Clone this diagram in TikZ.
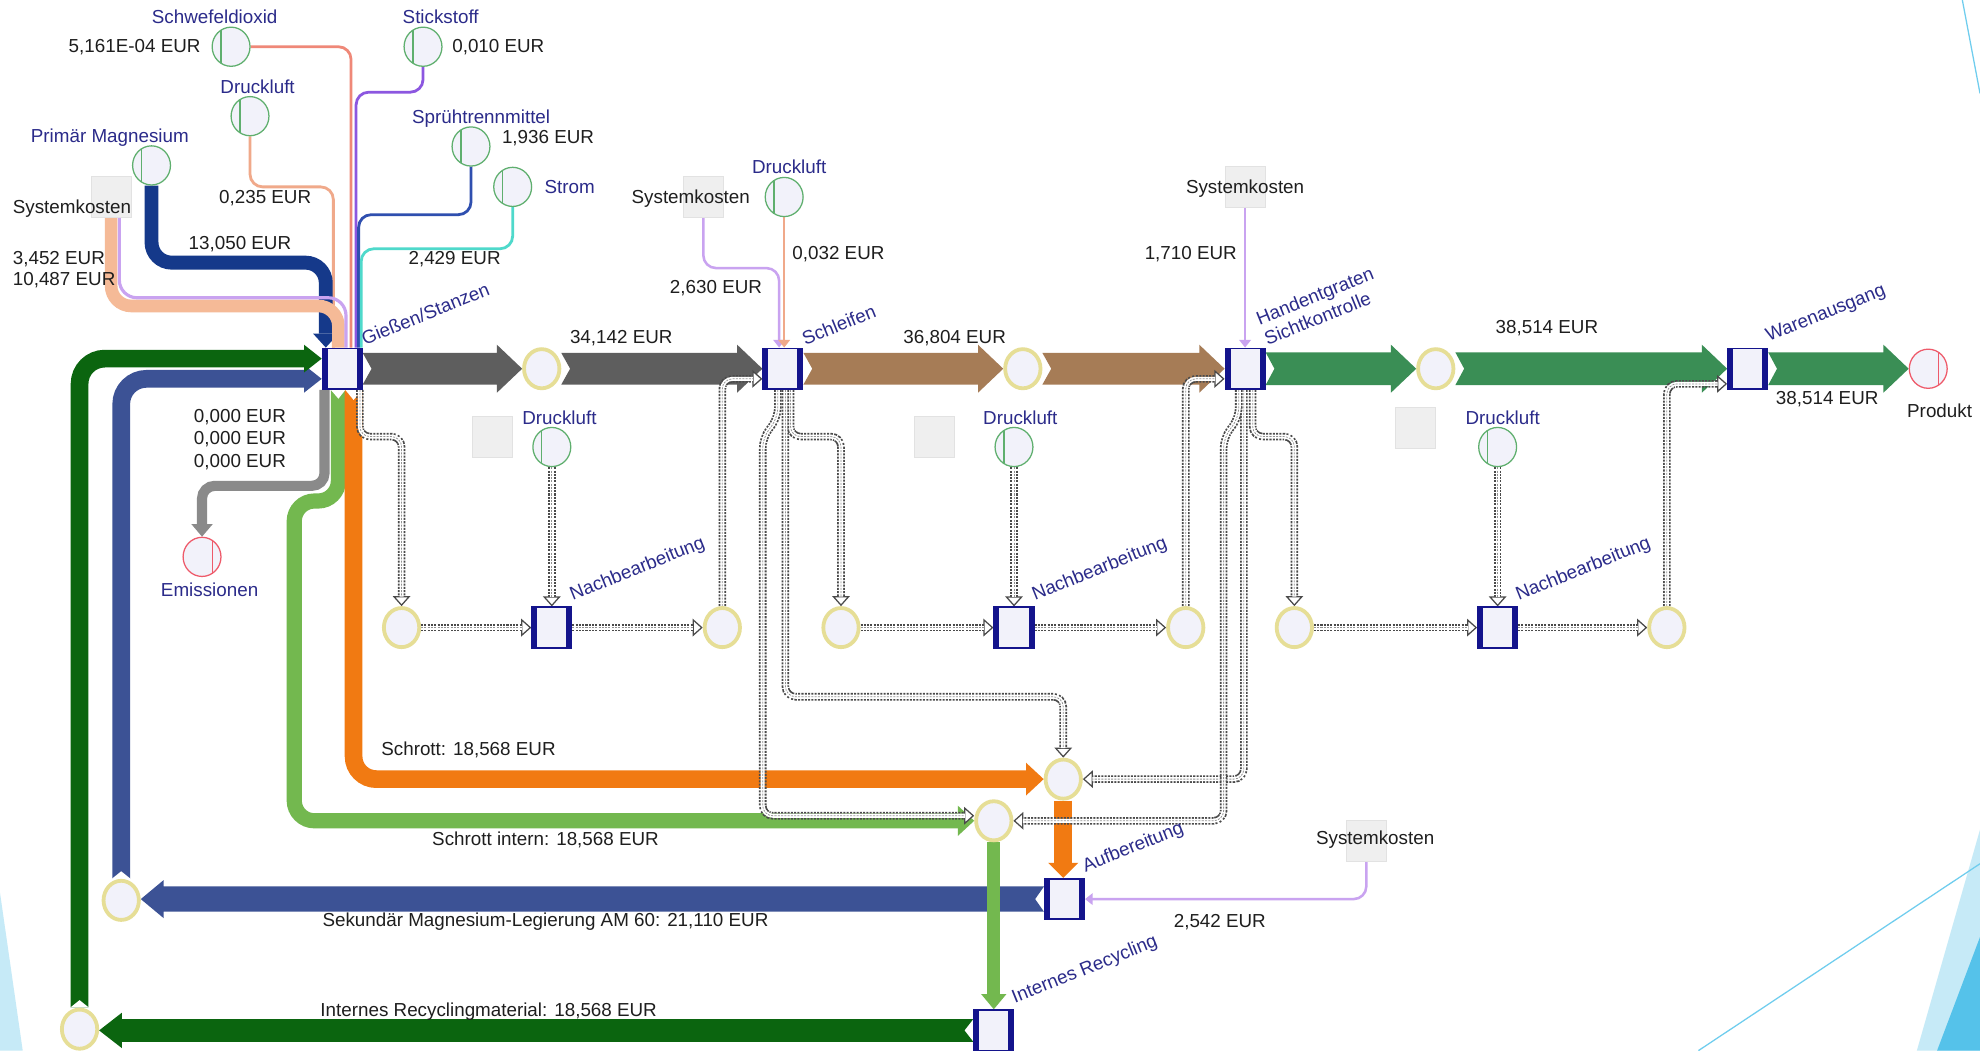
\documentclass[tikz,border=0pt]{standalone}
\usepackage{fontspec}
\setmainfont{Liberation Sans}
\usetikzlibrary{arrows.meta,calc,shapes.geometric}
\definecolor{navyb}{HTML}{14148C}
\definecolor{nfill}{HTML}{F2F2FA}
\definecolor{placey}{HTML}{E6DE96}
\definecolor{ingreen}{HTML}{5FAF6E}
\definecolor{outred}{HTML}{EE5A6A}
\definecolor{lblue}{HTML}{2B2B8A}
\definecolor{txt}{HTML}{1E1E1E}
\definecolor{sqfill}{HTML}{EFEFEF}
\definecolor{sqdraw}{HTML}{E2E2E2}
\definecolor{bgray}{HTML}{5E5E5E}
\definecolor{bbrown}{HTML}{A67C56}
\definecolor{bgreen}{HTML}{3A8E55}
\definecolor{dkgreen}{HTML}{0B650F}
\definecolor{secblue}{HTML}{3C5295}
\definecolor{lgreen}{HTML}{73B84F}
\definecolor{orng}{HTML}{F17A12}
\definecolor{pmnavy}{HTML}{15398A}
\definecolor{peach}{HTML}{F5BA97}
\definecolor{lav}{HTML}{C9A3F0}
\definecolor{salmon}{HTML}{EF8878}
\definecolor{purp}{HTML}{8C57E0}
\definecolor{sprblue}{HTML}{2F4FAF}
\definecolor{turq}{HTML}{4FD9CB}
\definecolor{dlpeach}{HTML}{F0A98A}
\definecolor{emgray}{HTML}{8A8A8A}
\definecolor{declight}{HTML}{C6EAF7}
\definecolor{decdark}{HTML}{55C2EA}
\definecolor{decline}{HTML}{6FCDEE}
\definecolor{dashc}{HTML}{4A4A4A}
\pgfdeclarelayer{deco}
\pgfdeclarelayer{bands}
\pgfdeclarelayer{dash}
\pgfsetlayers{deco,bands,dash,main}
\newcommand\hbandR[6]{%
  \fill[#3] let \p1=(#1), \p2=(#2) in
  (\x1,\y1+#4pt) -- (\x2-#6pt,\y1+#4pt) -- (\x2-#6pt,\y1+#5pt) -- (\x2,\y1)
  -- (\x2-#6pt,\y1-#5pt) -- (\x2-#6pt,\y1-#4pt) -- (\x1,\y1-#4pt) -- (\x1+7pt,\y1) -- cycle;}
\newcommand\hbandL[6]{%
  \fill[#3] let \p1=(#1), \p2=(#2) in
  (\x1,\y1+#4pt) -- (\x2+#6pt,\y1+#4pt) -- (\x2+#6pt,\y1+#5pt) -- (\x2,\y1)
  -- (\x2+#6pt,\y1-#5pt) -- (\x2+#6pt,\y1-#4pt) -- (\x1,\y1-#4pt) -- (\x1-7pt,\y1) -- cycle;}
\begin{document}
\begin{tikzpicture}[x=1pt,y=-1pt,
  place/.style={ellipse, minimum width=28pt, minimum height=31pt, inner sep=0pt, draw=placey, line width=3pt, fill=nfill},
  inp/.style={ellipse, minimum width=30pt, minimum height=31pt, inner sep=0pt, draw=ingreen, line width=1pt, fill=nfill,
    path picture={\draw[ingreen,line width=1pt] ([xshift=-8pt]path picture bounding box.north) -- ([xshift=-8pt]path picture bounding box.south);}},
  outp/.style={ellipse, minimum width=30pt, minimum height=31pt, inner sep=0pt, draw=outred, line width=1pt, fill=nfill,
    path picture={\draw[outred,line width=1pt] ([xshift=8pt]path picture bounding box.north) -- ([xshift=8pt]path picture bounding box.south);}},
  trans/.style={rectangle, minimum width=31pt, minimum height=32pt, inner sep=0pt, draw=navyb, line width=1.5pt, fill=nfill,
    path picture={\fill[navyb] (path picture bounding box.north west) rectangle ([xshift=4pt]path picture bounding box.south west);
      \fill[navyb] ([xshift=-4pt]path picture bounding box.north east) rectangle (path picture bounding box.south east);}},
  sq/.style={rectangle, minimum size=32pt, inner sep=0pt, fill=sqfill, draw=sqdraw, line width=0.6pt},
  nm/.style={text=lblue, font=\fontsize{14.9}{17}\selectfont, inner sep=1pt},
  val/.style={text=txt, font=\fontsize{14.9}{17}\selectfont, inner sep=1pt},
  tn/.style={nm, rotate=22, anchor=south west, align=left},
  dflow/.style={draw=dashc, line width=6pt, dash pattern=on 1.6pt off 1pt, rounded corners=8pt,
    -{Triangle[open, length=8pt, width=14pt, line width=1pt, fill=white]},
    postaction={draw=white, line width=3.2pt, solid, -, shorten >=7.5pt},
    postaction={draw=dashc!60, line width=0.6pt, dash pattern=on 1.6pt off 1pt, -, shorten >=7.5pt}},
  thin/.style={line width=2.2pt, rounded corners=10pt},
]
\useasboundingbox (0,0) rectangle (1568,832);
% ---------- nodes ----------
\node[trans] (T1) at (271,292) {};
\node[trans] (T2) at (620,292) {};
\node[trans] (T3) at (986,292) {};
\node[trans] (T4) at (1384,292) {};
\node[trans] (T5) at (437,497) {};
\node[trans] (T6) at (803,497) {};
\node[trans] (T7) at (1186,497) {};
\node[trans] (T8) at (843,712) {};
\node[trans] (T9) at (787,816) {};
\node[place] (P1) at (429,292) {};
\node[place] (P2) at (810,292) {};
\node[place] (P3) at (1137,292) {};
\node[place] (P4) at (318,497) {};
\node[place] (P5) at (572,497) {};
\node[place] (P6) at (666,497) {};
\node[place] (P7) at (939,497) {};
\node[place] (P8) at (1025,497) {};
\node[place] (P9) at (1320,497) {};
\node[place] (P10) at (842,617) {};
\node[place] (P11) at (787,650) {};
\node[place] (P12) at (96,713) {};
\node[place] (P13) at (63,815) {};
\node[inp] (SO2) at (183,37) {};
\node[inp] (N2) at (335,37) {};
\node[inp] (DL1) at (198,92) {};
\node[inp] (PM) at (120,131) {};
\node[inp] (ST) at (373,116) {};
\node[inp] (STR) at (406,148) {};
\node[inp] (DL2) at (621,156) {};
\node[inp] (DL4) at (437,354) {};
\node[inp] (DL5) at (803,354) {};
\node[inp] (DL6) at (1186,354) {};
\node[outp] (Em) at (160,441) {};
\node[outp] (Prod) at (1527,292) {};
\node[sq] (SK1) at (88,156) {};
\node[sq] (SK2) at (557,156) {};
\node[sq] (SK3) at (986,148) {};
\node[sq] (SK7) at (1082,666) {};
\node[sq] (E4) at (390,346) {};
\node[sq] (E5) at (740,346) {};
\node[sq] (E6) at (1121,339) {};
% ---------- labels ----------
\node[tn] (nT1) at ([xshift=1pt]T1.north east) {Gießen/Stanzen};
\node[tn] (nT2) at ([xshift=1pt]T2.north east) {Schleifen};
\node[tn] (nT3) at ([xshift=1pt]T3.north east) {Handentgraten\\Sichtkontrolle};
\node[tn] (nT4) at ([xshift=1pt]T4.north east) {Warenausgang};
\node[tn] (nT5) at ([xshift=1pt]T5.north east) {Nachbearbeitung};
\node[tn] (nT6) at ([xshift=1pt]T6.north east) {Nachbearbeitung};
\node[tn] (nT7) at ([xshift=1pt]T7.north east) {Nachbearbeitung};
\node[tn] (nT8) at ([xshift=1pt]T8.north east) {Aufbereitung};
\node[tn] (nT9) at ([xshift=1pt]T9.north east) {Internes Recycling};
\node[nm] (lSO2) at (170,13) {Schwefeldioxid};
\node[nm] (lN2) at (349,13) {Stickstoff};
\node[nm] (lDL1) at (204,69) {Druckluft};
\node[nm] (lPM) at (87,109) {Primär Magnesium};
\node[nm] (lST) at (381,94) {Sprühtrennmittel};
\node[nm,anchor=west] (lSTR) at (430,148) {Strom};
\node[nm] (lDL2) at (625,132) {Druckluft};
\node[nm] (lDL4) at (443,331) {Druckluft};
\node[nm] (lDL5) at (808,331) {Druckluft};
\node[nm] (lDL6) at (1190,331) {Druckluft};
\node[nm] (lEm) at (166,467) {Emissionen};
\node[val] (lProd) at (1536,325) {Produkt};
\node[val,anchor=west] (lSK1) at (9,165) {Systemkosten};
\node[val] (lSK2) at (547,157) {Systemkosten};
\node[val] (lSK3) at (986,149) {Systemkosten};
\node[val] (lSK7) at (1089,665) {Systemkosten};
\node[val,anchor=east] (v1) at (160,37) {5,161E-04 EUR};
\node[val,anchor=west] (v2) at (357,37) {0,010 EUR};
\node[val] (v3) at (210,157) {0,235 EUR};
\node[val] (v4) at (190,193) {13,050 EUR};
\node[val,anchor=west] (v5) at (9,205) {3,452 EUR};
\node[val,anchor=west] (v6) at (9,222) {10,487 EUR};
\node[val] (v7) at (434,109) {1,936 EUR};
\node[val] (v8) at (360,205) {2,429 EUR};
\node[val] (v9) at (190,330) {0,000 EUR};
\node[val] (v10) at (190,348) {0,000 EUR};
\node[val] (v11) at (190,366) {0,000 EUR};
\node[val] (v12) at (492,268) {34,142 EUR};
\node[val] (v13) at (567,228) {2,630 EUR};
\node[val] (v14) at (664,201) {0,032 EUR};
\node[val] (v15) at (756,268) {36,804 EUR};
\node[val] (v16) at (943,201) {1,710 EUR};
\node[val] (v17) at (1225,260) {38,514 EUR};
\node[val] (v18) at (1447,316) {38,514 EUR};
\node[val] (v19) at (371,594) {Schrott: 18,568 EUR};
\node[val] (v20) at (432,665) {Schrott intern: 18,568 EUR};
\node[val] (v21) at (432,730) {Sekundär Magnesium-Legierung AM 60: 21,110 EUR};
\node[val] (v22) at (966,730) {2,542 EUR};
\node[val] (v23) at (387,801) {Internes Recyclingmaterial: 18,568 EUR};
% ---------- decoration ----------
\begin{pgfonlayer}{deco}
\fill[white] (0,0) rectangle (1568,832);
\fill[declight] (0,707) -- (18,832) -- (0,832) -- cycle;
\fill[declight] (1568,657) -- (1518,832) -- (1568,832) -- cycle;
\fill[decdark] (1568,742) -- (1534,832) -- (1568,832) -- cycle;
\draw[decline, line width=1pt] (1554,0) -- (1568,74);
\draw[decline, line width=1pt] (1345,832) -- (1568,684);
\end{pgfonlayer}
% ---------- bands ----------
\begin{pgfonlayer}{bands}
% inputs to Giessen
\draw[salmon, thin] (SO2.east) -| ([xshift=7pt]T1.north);
\draw[purp, thin] (N2.south) -- ++(0,20) -| ([xshift=11pt]T1.north);
\draw[sprblue, thin] (ST.south) -- ++(0,38) -| ([xshift=13pt]T1.north);
\draw[turq, thin] (STR.south) -- ++(0,33) -| ([xshift=15pt]T1.north);
\draw[dlpeach, thin] (DL1.south) -- ++(0,40) -| ([xshift=-7pt]T1.north);
\draw[pmnavy, line width=11pt, rounded corners=16pt, -{Triangle[length=11pt,width=20pt,line width=0pt]}] (PM.south) -- ++(0,61) -| ([xshift=-13pt]T1.north);
\draw[peach, line width=10pt, rounded corners=16pt] (SK1.south) -- ++(0,70) -| ([xshift=-3pt]T1.north);
\draw[lav, line width=2.5pt, rounded corners=14pt] ([xshift=6.5pt]SK1.south) -- ++(0,63.5) -| ([xshift=3pt]T1.north);
% outputs of Giessen
\draw[emgray, line width=8pt, rounded corners=10pt, -{Triangle[length=10pt,width=17pt,line width=0pt]}] ([xshift=-14pt]T1.south) -- ++(0,76) -| (Em.north);
\draw[lgreen, line width=12pt, rounded corners=16pt, -{Triangle[length=13pt,width=24pt,line width=0pt]}] ([xshift=-3pt]T1.south) -- ++(0,88) -- ++(-35,0) |- (P11.west);
\draw[orng, line width=14pt, rounded corners=18pt, -{Triangle[length=14pt,width=26pt,line width=0pt]}] ([xshift=9pt]T1.south) |- (P10.west);
\fill[white] ([xshift=-9pt]T1.south) -- ([xshift=2.5pt]T1.south) -- ([xshift=-3pt,yshift=-7pt]T1.south) -- cycle;
\fill[white] ([xshift=2.5pt]T1.south) -- ([xshift=16pt]T1.south) -- ([xshift=9pt,yshift=-8pt]T1.south) -- cycle;
% left loops
\draw[secblue, line width=14pt, rounded corners=20pt, -{Triangle[length=14pt,width=22pt,line width=0pt]}] (P12.north) |- ([yshift=-8pt]T1.west);
\draw[dkgreen, line width=14pt, rounded corners=20pt, -{Triangle[length=14pt,width=22pt,line width=0pt]}] (P13.north) |- ([yshift=8pt]T1.west);
\fill[white] ([xshift=-7.5pt]P12.north) -- ([xshift=7.5pt]P12.north) -- ([yshift=6pt]P12.north) -- cycle;
\fill[white] ([xshift=-7.5pt]P13.north) -- ([xshift=7.5pt]P13.north) -- ([yshift=6pt]P13.north) -- cycle;
% main line
\hbandR{T1.east}{P1.west}{bgray}{12.5}{19}{20}
\hbandR{P1.east}{T2.west}{bgray}{12.5}{19}{20}
\hbandR{T2.east}{P2.west}{bbrown}{12.5}{19}{20}
\hbandR{P2.east}{T3.west}{bbrown}{12.5}{19}{20}
\hbandR{T3.east}{P3.west}{bgreen}{13}{19}{20}
\hbandR{P3.east}{T4.west}{bgreen}{13}{19}{20}
\hbandR{T4.east}{Prod.west}{bgreen}{13}{19}{20}
% Schleifen / Handentgraten inputs
\draw[lav, line width=2pt, rounded corners=10pt, -{Triangle[length=6pt,width=9pt]}] (SK2.south) -- ++(0,40) -| ([xshift=-3pt]T2.north);
\draw[dlpeach, line width=1.8pt, -{Triangle[length=6pt,width=9pt]}] (DL2.south) -- (DL2.south |- T2.north);
\draw[lav, line width=2pt, -{Triangle[length=6pt,width=9pt]}] (SK3.south) -- (T3.north);
% bottom
\hbandL{T8.west}{P12.east}{secblue}{10}{15}{18}
\hbandL{T9.west}{P13.east}{dkgreen}{9}{14}{18}
\draw[orng, line width=14pt, -{Triangle[length=12pt,width=24pt,line width=0pt]}] (P10.south) -- (P10.south |- T8.north);
\draw[lgreen, line width=10pt, -{Triangle[length=12pt,width=20pt,line width=0pt]}] (P11.south) -- (T9.north);
\draw[lav, line width=2pt, rounded corners=10pt, -{Triangle[length=6pt,width=9pt]}] (SK7.south) |- (T8.east);
\end{pgfonlayer}
% ---------- dashed connectors ----------
\begin{pgfonlayer}{dash}
\draw[dflow] ([xshift=14pt]T1.south) -- ++(0,37) -| (P4.north);
\draw[dflow] (DL4.south) -- (T5.north);
\draw[dflow] (P4.east) -- (T5.west);
\draw[dflow] (T5.east) -- (P5.west);
\draw[dflow] (P5.north) |- ([yshift=-8pt]T2.west);
\draw[dflow] ([xshift=6pt]T2.south) -- ++(0,37) -| (P6.north);
\draw[dflow] ([xshift=2pt]T2.south) -- ++(0,243) -| (P10.north);
\draw[dflow] ([xshift=-4pt]T2.south) -- ++(0,22) -- ++(-12,16) |- ([yshift=4pt]P11.west);
\draw[dflow] (DL5.south) -- (T6.north);
\draw[dflow] (P6.east) -- (T6.west);
\draw[dflow] (T6.east) -- (P7.west);
\draw[dflow] (P7.north) |- ([yshift=-8pt]T3.west);
\draw[dflow] ([xshift=6pt]T3.south) -- ++(0,37) -| (P8.north);
\draw[dflow] ([xshift=-1pt]T3.south) |- (P10.east);
\draw[dflow] ([xshift=-5pt]T3.south) -- ++(0,22) -- ++(-12,16) |- (P11.east);
\draw[dflow] (DL6.south) -- (T7.north);
\draw[dflow] (P8.east) -- (T7.west);
\draw[dflow] (T7.east) -- (P9.west);
\draw[dflow] (P9.north) |- ([yshift=-12pt]T4.west);
\end{pgfonlayer}
\end{tikzpicture}
\end{document}
